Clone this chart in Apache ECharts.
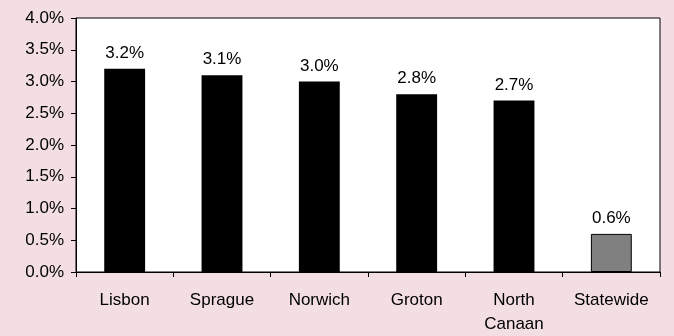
<!DOCTYPE html>
<html>
<head>
<meta charset="utf-8">
<style>
  html, body { margin: 0; padding: 0; background: #f3dfe3; }
  #chart { width: 674px; height: 336px; }
</style>
<script src="https://cdn.jsdelivr.net/npm/echarts@6/dist/echarts.min.js"></script>
</head>
<body>
<div id="chart"></div>
<script>
// Towns and their percentage change
const towns = ['Lisbon', 'Sprague', 'Norwich', 'Groton', 'North\nCanaan', 'Statewide'];
const changePct = [3.2, 3.1, 3.0, 2.8, 2.7, 0.6];
const yTicks = [0, 0.5, 1.0, 1.5, 2.0, 2.5, 3.0, 3.5, 4.0];

const FONT = "'Liberation Sans', Arial, sans-serif";
const chart = echarts.init(document.getElementById('chart'), null, { renderer: 'canvas' });

const barData = changePct.map((v, i) => {
  const isState = towns[i] === 'Statewide';
  return {
    value: v,
    itemStyle: isState
      ? { color: '#808080', borderColor: '#000', borderWidth: 1 }
      : { color: '#000' }
  };
});

chart.setOption({
  backgroundColor: '#f3dfe3',
  animation: false,
  grid: {
    left: 76, right: 14, top: 18, bottom: 64,
    show: true, backgroundColor: '#fff', borderColor: '#000', borderWidth: 1
  },
  xAxis: {
    type: 'category',
    data: towns,
    axisLine: { lineStyle: { color: '#000', width: 1 } },
    axisTick: { show: true, length: 5, lineStyle: { color: '#000' } },
    axisLabel: {
      color: '#000', fontFamily: FONT, fontSize: 17, margin: 16,
      lineHeight: 24, interval: 0
    }
  },
  yAxis: {
    type: 'value',
    min: yTicks[0],
    max: yTicks[yTicks.length - 1],
    interval: yTicks[1] - yTicks[0],
    splitLine: { show: false },
    axisLine: { show: true, lineStyle: { color: '#000', width: 1 } },
    axisTick: { show: true, length: 5, lineStyle: { color: '#000' } },
    axisLabel: {
      color: '#000', fontFamily: FONT, fontSize: 17, margin: 12,
      formatter: v => v.toFixed(1) + '%'
    }
  },
  series: [{
    type: 'bar',
    data: barData,
    barWidth: '42%',
    label: {
      show: true,
      position: 'top',
      distance: 7,
      color: '#000',
      fontFamily: FONT,
      fontSize: 17,
      formatter: p => p.value.toFixed(1) + '%'
    }
  }]
});
</script>
</body>
</html>
